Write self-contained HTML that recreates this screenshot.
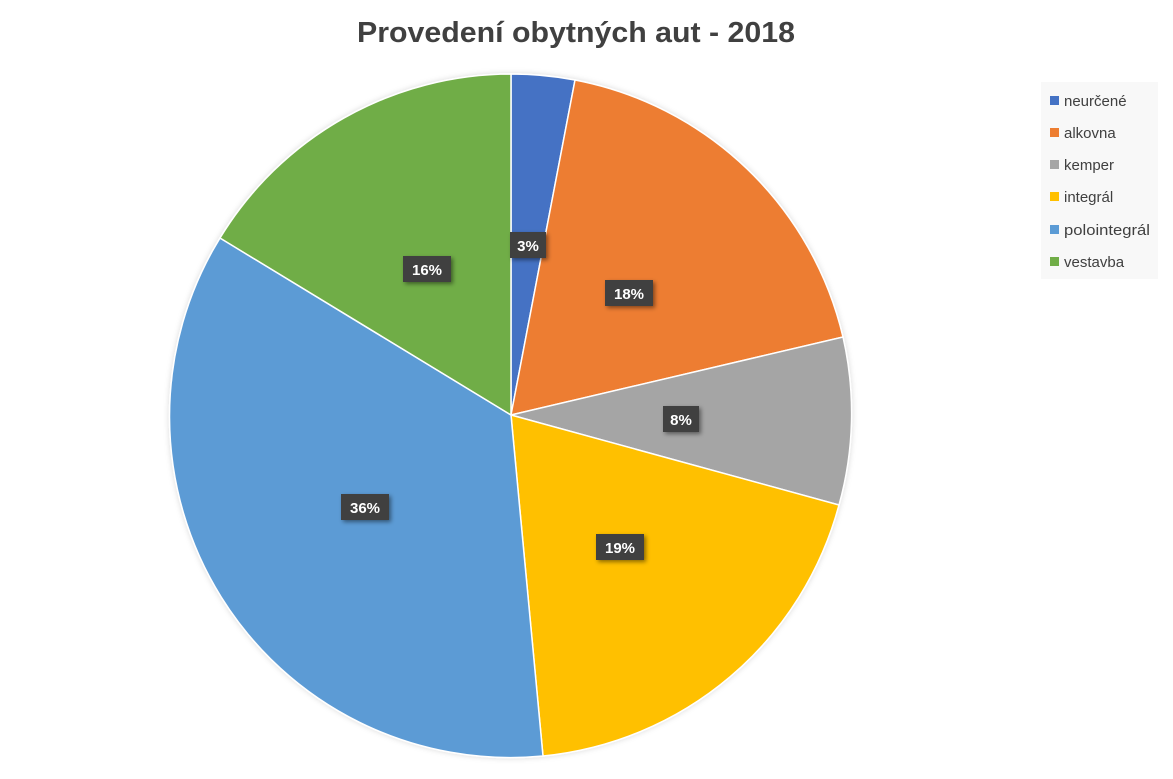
<!DOCTYPE html>
<html><head><meta charset="utf-8"><style>
body{margin:0;background:#fff;}
</style></head><body>
<svg width="1173" height="779" xmlns="http://www.w3.org/2000/svg" style="display:block">
<defs><filter id="sh" x="-20%" y="-20%" width="150%" height="150%"><feDropShadow dx="2" dy="2" stdDeviation="2" flood-color="#000" flood-opacity="0.45"/></filter>
<filter id="ps" x="-10%" y="-10%" width="120%" height="120%"><feDropShadow dx="0" dy="0" stdDeviation="3" flood-color="#000" flood-opacity="0.15"/></filter></defs>
<text x="357" y="42" textLength="438" lengthAdjust="spacingAndGlyphs" font-family="Liberation Sans, sans-serif" font-weight="bold" font-size="29" fill="#404040">Provedení obytných aut - 2018</text>
<g filter="url(#ps)" stroke="#fff" stroke-width="1.5">
<path d="M511,415 L511,74 A341,341 0 0 1 575,80 Z" fill="#4472C4"/>
<path d="M511,415 L575,80 A341,341 0 0 1 843,337 Z" fill="#ED7D31"/>
<path d="M511,415 L843,337 A341,341 0 0 1 839,505 Z" fill="#A5A5A5"/>
<path d="M511,415 L839,505 A341,341 0 0 1 543,756 Z" fill="#FFC000"/>
<path d="M511,415 L543,756 A341,341 0 0 1 220,238 Z" fill="#5B9BD5"/>
<path d="M511,415 L220,238 A341,341 0 0 1 511,74 Z" fill="#70AD47"/>
</g>
<g font-family="Liberation Sans, sans-serif" font-weight="bold" font-size="15" fill="#fff" text-anchor="middle">
<g filter="url(#sh)">
<rect x="510" y="232" width="36" height="26" fill="#404040"/>
<rect x="605" y="280" width="48" height="26" fill="#404040"/>
<rect x="663" y="406" width="36" height="26" fill="#404040"/>
<rect x="596" y="534" width="48" height="26" fill="#404040"/>
<rect x="341" y="494" width="48" height="26" fill="#404040"/>
<rect x="403" y="256" width="48" height="26" fill="#404040"/>
</g>
<text x="528" y="251">3%</text>
<text x="629" y="299">18%</text>
<text x="681" y="425">8%</text>
<text x="620" y="553">19%</text>
<text x="365" y="513">36%</text>
<text x="427" y="275">16%</text>
</g>
<rect x="1041" y="82" width="117" height="197" fill="#f8f8f8"/>
<g font-family="Liberation Sans, sans-serif" font-size="15" fill="#404040">
<rect x="1050" y="96" width="9" height="9" fill="#4472C4"/><text x="1064" y="106">neurčené</text>
<rect x="1050" y="128" width="9" height="9" fill="#ED7D31"/><text x="1064" y="138">alkovna</text>
<rect x="1050" y="160" width="9" height="9" fill="#A5A5A5"/><text x="1064" y="170">kemper</text>
<rect x="1050" y="192" width="9" height="9" fill="#FFC000"/><text x="1064" y="202">integrál</text>
<rect x="1050" y="225" width="9" height="9" fill="#5B9BD5"/><text x="1064" y="235" textLength="86" lengthAdjust="spacingAndGlyphs">polointegrál</text>
<rect x="1050" y="257" width="9" height="9" fill="#70AD47"/><text x="1064" y="267">vestavba</text>
</g>
</svg>
</body></html>
